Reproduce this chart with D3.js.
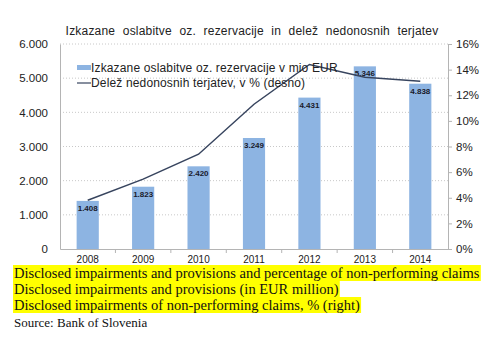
<!DOCTYPE html>
<html><head><meta charset="utf-8">
<script src="https://cdn.jsdelivr.net/npm/d3@7"></script>
<style>body{margin:0;background:#fff;} svg{display:block;}</style>
</head><body>
<svg id="c" width="504" height="357"></svg>
<script>
const years = ["2008","2009","2010","2011","2012","2013","2014"];
const impairments = [1408, 1823, 2420, 3249, 4431, 5346, 4838];
const nplShare = [3.8, 5.45, 7.4, 11.3, 14.4, 13.4, 13.1];
const leftTicks = [0,1000,2000,3000,4000,5000,6000];
const rightTicks = [0,2,4,6,8,10,12,14,16];
const title = "Izkazane oslabitve oz. rezervacije in delež nedonosnih terjatev";
const legendBar = "Izkazane oslabitve oz. rezervacije v mio EUR";
const legendLine = "Delež nedonosnih terjatev, v % (desno)";
const captions = ["Disclosed impairments and provisions and percentage of non-performing claims",
  "Disclosed impairments and provisions (in EUR million)",
  "Disclosed impairments of non-performing claims, % (right)"];
const source = "Source: Bank of Slovenia";

const svg = d3.select("#c");
const L = 60, R = 448, T = 44, B = 249;
const x = d3.scaleBand().domain(years).range([L, R]).paddingInner(0.6).paddingOuter(0.3);
const xc = d3.scaleBand().domain(years).range([L, R]);
const y = d3.scaleLinear().domain([0, 6000]).range([B, T]);
const y2 = d3.scaleLinear().domain([0, 16]).range([B, T]);
const fmt = d => d3.format(",")(d).replace(/,/g, ".");
const font = "'Liberation Sans', Arial, sans-serif";

// gridlines
svg.append("g").selectAll("line").data(leftTicks.filter(d => d > 0)).join("line")
  .attr("x1", L).attr("x2", R).attr("y1", d => y(d)).attr("y2", d => y(d))
  .attr("stroke", "#c8c8c8").attr("stroke-width", 1).attr("stroke-dasharray", "1,2");

// bars
svg.append("g").selectAll("rect").data(years).join("rect")
  .attr("x", d => x(d)).attr("width", x.bandwidth())
  .attr("y", (d, i) => y(impairments[i])).attr("height", (d, i) => B - y(impairments[i]))
  .attr("fill", "#8db4e2");

// bar labels
svg.append("g").selectAll("text").data(years).join("text")
  .attr("x", d => x(d) + x.bandwidth() / 2).attr("y", (d, i) => y(impairments[i]) + 10)
  .attr("text-anchor", "middle").attr("font-family", font).attr("font-size", 8).attr("font-weight", "bold")
  .attr("fill", "#1a1a2a").text((d, i) => fmt(impairments[i]));

// axes
const la = svg.append("g").attr("transform", `translate(${L},0)`)
  .call(d3.axisLeft(y).tickValues(leftTicks).tickFormat(fmt).tickSize(0).tickPadding(12));
const ra = svg.append("g").attr("transform", `translate(${R},0)`)
  .call(d3.axisRight(y2).tickValues(rightTicks).tickFormat(d => d + "%").tickSize(4).tickPadding(4));
const ba = svg.append("g").attr("transform", `translate(0,${B})`)
  .call(d3.axisBottom(xc).tickSize(0).tickPadding(7));
[la, ra, ba].forEach(g => {
  g.selectAll(".domain").attr("stroke", "#b4b4b4");
  g.selectAll(".tick line").attr("stroke", "#b4b4b4");
  g.selectAll("text").attr("font-family", font).attr("font-size", 11.5).attr("fill", "#222");
});
ba.selectAll("text").attr("font-size", 10);
// category separators on x axis
svg.append("g").selectAll("line").data(years.slice(1)).join("line")
  .attr("x1", d => xc(d)).attr("x2", d => xc(d)).attr("y1", B).attr("y2", B + 4)
  .attr("stroke", "#b4b4b4");

// line
svg.append("path").datum(years)
  .attr("d", d3.line().x(d => xc(d) + xc.bandwidth() / 2).y((d, i) => y2(nplShare[i])))
  .attr("fill", "none").attr("stroke", "#37445e").attr("stroke-width", 1.5);

// title
svg.append("text").attr("x", 252).attr("y", 35).attr("text-anchor", "middle")
  .attr("font-family", font).attr("font-size", 12).attr("fill", "#222")
  .attr("word-spacing", 4).attr("letter-spacing", 0.2).text(title);

// legend
svg.append("rect").attr("x", 77).attr("y", 65).attr("width", 14).attr("height", 5).attr("fill", "#8db4e2");
svg.append("text").attr("x", 91).attr("y", 72).attr("font-family", font).attr("font-size", 12).attr("letter-spacing", 0.15).attr("fill", "#222").text(legendBar);
svg.append("line").attr("x1", 77).attr("x2", 91).attr("y1", 83).attr("y2", 83).attr("stroke", "#37445e").attr("stroke-width", 1.2);
svg.append("text").attr("x", 91).attr("y", 87).attr("font-family", font).attr("font-size", 12).attr("letter-spacing", 0.15).attr("fill", "#222").text(legendLine);

// captions
const capY = [278, 294, 310];
captions.forEach((c, i) => {
  const g = svg.append("g");
  const t = g.append("text").attr("x", 14).attr("y", capY[i])
    .attr("font-family", "'Liberation Serif', 'Times New Roman', serif").attr("font-size", 14.5).attr("fill", "#111").text(c);
  const bb = t.node().getBBox();
  g.insert("rect", "text").attr("x", 13).attr("y", capY[i] - 13).attr("width", bb.width + 2).attr("height", 16).attr("fill", "#ffff00");
});
svg.append("text").attr("x", 14).attr("y", 327)
  .attr("font-family", "'Liberation Serif', 'Times New Roman', serif").attr("font-size", 13).attr("fill", "#111").text(source);
</script>
</body></html>
